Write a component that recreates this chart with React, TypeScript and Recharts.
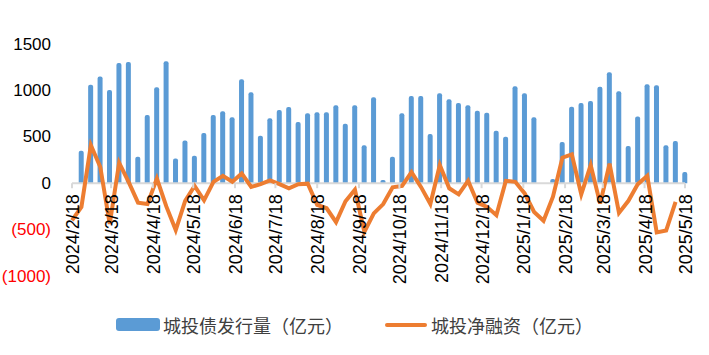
import { Bar, ComposedChart, Line, ReferenceLine, XAxis, YAxis } from 'recharts'

const dates = [
  '2024/2/18', '2024/2/25', '2024/3/3', '2024/3/10', '2024/3/17', '2024/3/24', '2024/3/31',
  '2024/4/7', '2024/4/14', '2024/4/21', '2024/4/28', '2024/5/5', '2024/5/12', '2024/5/19',
  '2024/5/26', '2024/6/2', '2024/6/9', '2024/6/16', '2024/6/23', '2024/6/30', '2024/7/7',
  '2024/7/14', '2024/7/21', '2024/7/28', '2024/8/4', '2024/8/11', '2024/8/18', '2024/8/25',
  '2024/9/1', '2024/9/8', '2024/9/15', '2024/9/22', '2024/9/29', '2024/10/6', '2024/10/13',
  '2024/10/20', '2024/10/27', '2024/11/3', '2024/11/10', '2024/11/17', '2024/11/24', '2024/12/1',
  '2024/12/8', '2024/12/15', '2024/12/22', '2024/12/29', '2025/1/5', '2025/1/12', '2025/1/19',
  '2025/1/26', '2025/2/2', '2025/2/9', '2025/2/16', '2025/2/23', '2025/3/2', '2025/3/9',
  '2025/3/16', '2025/3/23', '2025/3/30', '2025/4/6', '2025/4/13', '2025/4/20', '2025/4/27',
  '2025/5/4', '2025/5/11', '2025/5/18',
]

// 城投债发行量（亿元）
const issuance: Array<number | null> = [
  null, 350, 1060, 1150, 1005, 1295, 1305, 285, 735, 1035, 1315, 265, 460, 295, 540, 735,
  775, 710, 1120, 980, 510, 700, 790, 820, 660, 755, 765, 765, 840, 640, 840, 410,
  925, 35, 285, 755, 940, 940, 530, 970, 905, 865, 840, 780, 760, 565, 500, 1045,
  970, 710, null, 45, 445, 825, 865, 885, 1040, 1195, 990, 400, 720, 1065, 1055, 410, 455, 120,
]

// 城投净融资（亿元）
const netFinancing: Array<number | null> = [
  -400, -255, 410, 175, -440, 220, 15, -210, -225, 50, -250, -505, -190, -30, -185, 15,
  80, 15, 105, -40, -10, 30, -10, -55, -10, -5, -235, -270, -420, -195, -70, -525,
  -325, -225, -45, -30, 120, -40, -225, 195, -55, -120, 25, -210, -255, -345, 25, 15,
  -110, -310, -405, -145, 275, 310, -120, 195, -220, 210, -320, -190, -10, 80, -530, -510, -200, null,
]

const tickLabels = [
  '2024/2/18', '2024/3/18', '2024/4/18', '2024/5/18', '2024/6/18', '2024/7/18', '2024/8/18',
  '2024/9/18', '2024/10/18', '2024/11/18', '2024/12/18', '2025/1/18', '2025/2/18', '2025/3/18',
  '2025/4/18', '2025/5/18',
]

const yTicks = [-1000, -500, 0, 500, 1000, 1500]

const toTime = (s: string) => {
  const [y, m, d] = s.split('/').map(Number)
  return Date.UTC(y, m - 1, d)
}

const rows = dates.map((d, i) => ({
  t: toTime(d),
  issuance: issuance[i],
  net: netFinancing[i],
}))

const xTicks = tickLabels.map(toTime)
const labelByTime = new Map(xTicks.map((t, i) => [t, tickLabels[i]]))

const W = 709
const H = 355
const TOP = 44
const BOTTOM = 79
const PLOT_H = H - TOP - BOTTOM
const Y_MIN = -1000
const Y_MAX = 1500
const ZERO_Y = TOP + (PLOT_H * Y_MAX) / (Y_MAX - Y_MIN)
const numFont = '"Liberation Sans", Arial, sans-serif'
const cjkFont = '"Noto Sans CJK SC", sans-serif'

function XTick(props: any) {
  const { x, payload } = props
  const label = labelByTime.get(payload.value) ?? ''
  return (
    <g>
      <line x1={x} x2={x} y1={ZERO_Y} y2={ZERO_Y + 5} stroke="#d9d9d9" strokeWidth={2} />
      <text
        x={0}
        y={0}
        transform={`translate(${x + 1},${ZERO_Y + 11}) rotate(-90)`}
        textAnchor="end"
        dominantBaseline="central"
        fontSize={18}
        fontFamily={numFont}
        fill="#000"
      >
        {label}
      </text>
    </g>
  )
}

function YTick(props: any) {
  const { y, payload } = props
  const v = payload.value as number
  const text = v < 0 ? `(${Math.abs(v)})` : `${v}`
  return (
    <text
      x={51}
      y={y}
      textAnchor="end"
      dominantBaseline="central"
      fontSize={17}
      fontFamily={numFont}
      fill={v < 0 ? '#ff0000' : '#000'}
    >
      {text}
    </text>
  )
}

export default function App() {
  return (
    <div style={{ position: 'absolute', left: 0, top: 0, width: W, height: H, background: '#fff' }}>
      <ComposedChart width={W} height={H} data={rows} margin={{ top: TOP, right: 24, left: 0, bottom: 0 }}>
        <XAxis
          dataKey="t"
          type="number"
          scale="linear"
          domain={[rows[0].t, rows[rows.length - 1].t]}
          ticks={xTicks}
          interval={0}
          axisLine={false}
          tickLine={false}
          height={BOTTOM}
          tick={<XTick />}
        />
        <YAxis
          domain={[Y_MIN, Y_MAX]}
          ticks={yTicks}
          width={72}
          axisLine={false}
          tickLine={false}
          tick={<YTick />}
        />
        <Bar dataKey="issuance" fill="#5b9bd5" barSize={5} radius={[2, 2, 0, 0]} isAnimationActive={false} />
        <ReferenceLine y={0} stroke="#d9d9d9" strokeWidth={2} />
        <Line
          dataKey="net"
          type="linear"
          stroke="#ed7d31"
          strokeWidth={4}
          dot={false}
          activeDot={false}
          isAnimationActive={false}
        />
      </ComposedChart>
      <div
        style={{
          position: 'absolute',
          top: 316,
          left: 0,
          width: W,
          height: 18,
          fontFamily: cjkFont,
          fontSize: 18,
          lineHeight: '18px',
          color: '#404040',
        }}
      >
        <div style={{ position: 'absolute', left: 116, top: 2, width: 44, height: 13, background: '#5b9bd5', borderRadius: 3 }} />
        <span style={{ position: 'absolute', left: 163, top: 0, whiteSpace: 'nowrap' }}>城投债发行量（亿元）</span>
        <div style={{ position: 'absolute', left: 385, top: 7, width: 42, height: 4, background: '#ed7d31', borderRadius: 2 }} />
        <span style={{ position: 'absolute', left: 431, top: 0, whiteSpace: 'nowrap' }}>城投净融资（亿元）</span>
      </div>
    </div>
  )
}
